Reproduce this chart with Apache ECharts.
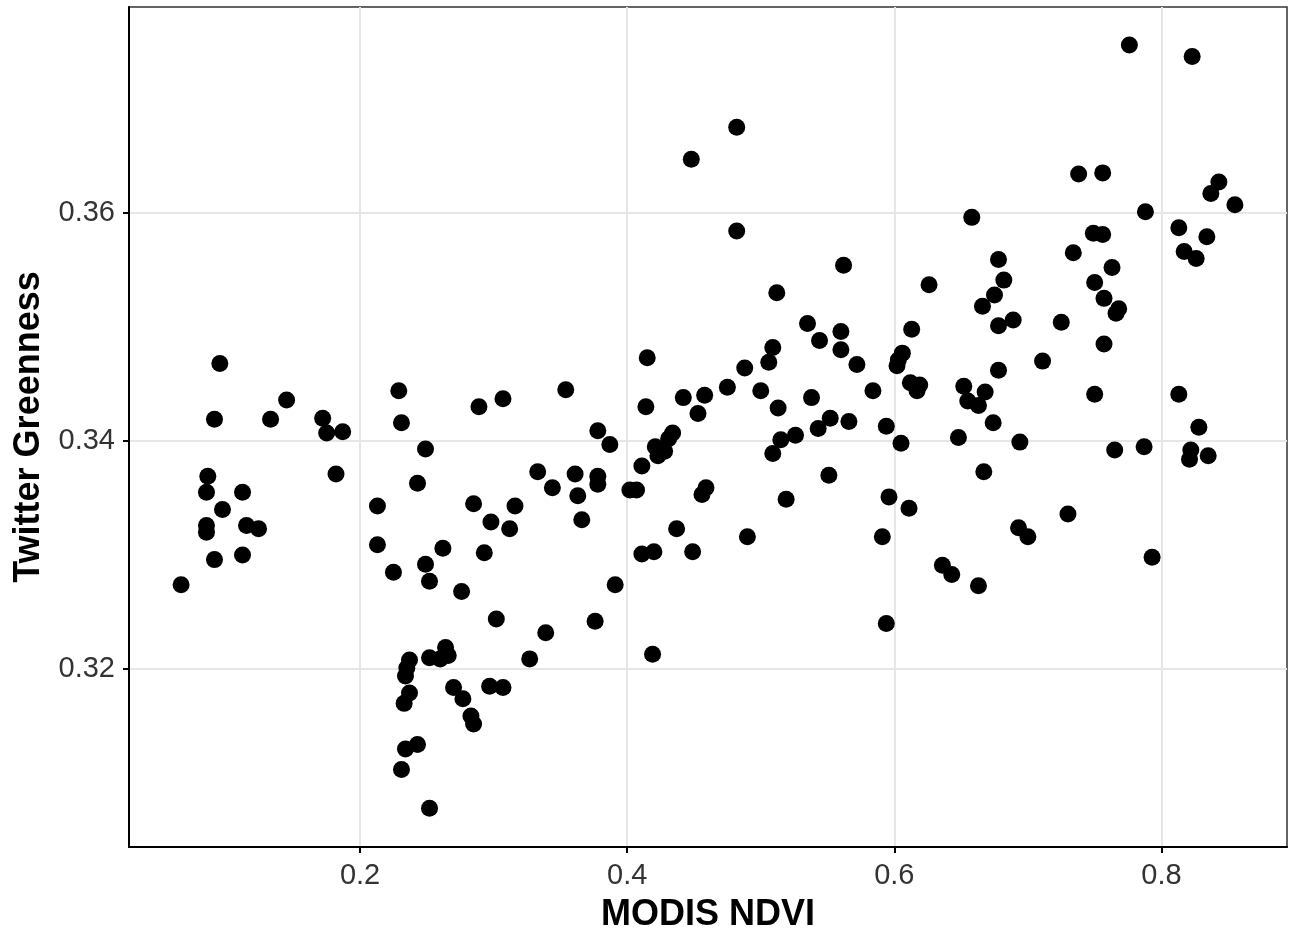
<!DOCTYPE html>
<html><head><meta charset="utf-8">
<script src="https://cdn.jsdelivr.net/npm/echarts@6/dist/echarts.min.js"></script>
<style>html,body{margin:0;padding:0;background:#fff}#c{width:1293px;height:930px}</style>
</head><body><div id="c"></div>
<script>
const ndvi = [0.066,0.086,0.085,0.112,0.097,0.085,0.085,0.115,0.124,0.091,0.112,0.095,0.091,0.133,0.145,0.172,0.175,0.187,0.182,0.229,
0.231,0.213,0.213,0.225,0.243,0.249,0.249,0.252,0.252,0.237,0.235,0.234,0.237,0.233,0.243,0.234,0.231,0.252,0.264,0.260,
0.266,0.270,0.277,0.283,0.285,0.276,0.302,0.297,0.307,0.327,0.339,0.376,0.391,0.419,0.262,0.293,0.285,0.316,0.298,0.312,
0.366,0.333,0.344,0.361,0.363,0.378,0.378,0.402,0.407,0.411,0.378,0.387,0.421,0.423,0.428,0.434,0.431,0.442,0.458,0.453,
0.415,0.414,0.354,0.307,0.289,0.437,0.411,0.420,0.449,0.456,0.459,0.448,0.482,0.482,0.562,0.512,0.626,0.658,0.666,0.675,
0.535,0.560,0.544,0.560,0.613,0.509,0.506,0.488,0.475,0.500,0.513,0.538,0.572,0.584,0.606,0.603,0.602,0.612,0.619,0.617,
0.552,0.543,0.566,0.594,0.605,0.648,0.526,0.515,0.509,0.652,0.668,0.655,0.663,0.674,0.667,0.551,0.519,0.596,0.611,0.490,
0.591,0.636,0.643,0.663,0.594,0.776,0.823,0.738,0.756,0.843,0.837,0.855,0.788,0.813,0.834,0.817,0.826,0.749,0.756,0.734,
0.763,0.750,0.678,0.682,0.757,0.768,0.766,0.689,0.678,0.725,0.757,0.711,0.678,0.750,0.813,0.828,0.694,0.765,0.787,0.822,
0.821,0.835,0.730,0.693,0.700,0.793];
const greenness = [0.3274,0.3369,0.3355,0.3355,0.3340,0.3326,0.3320,0.3326,0.3323,0.3296,0.3300,0.3468,0.3419,0.3419,0.3436,0.3420,0.3407,0.3408,0.3371,0.3444,
0.3416,0.3343,0.3309,0.3285,0.3363,0.3393,0.3292,0.3277,0.3210,0.3208,0.3201,0.3194,0.3179,0.3170,0.3134,0.3130,0.3112,0.3078,0.3219,0.3209,
0.3212,0.3184,0.3174,0.3159,0.3152,0.3268,0.3244,0.3185,0.3184,0.3209,0.3232,0.3242,0.3274,0.3213,0.3306,0.3302,0.3345,0.3343,0.3329,0.3323,
0.3331,0.3373,0.3359,0.3371,0.3352,0.3369,0.3362,0.3357,0.3357,0.3378,0.3409,0.3397,0.3395,0.3387,0.3391,0.3407,0.3402,0.3438,0.3440,0.3424,
0.3473,0.3430,0.3445,0.3437,0.3430,0.3323,0.3301,0.3303,0.3303,0.3353,0.3359,0.3647,0.3675,0.3584,0.3554,0.3530,0.3537,0.3596,0.3518,0.3528,
0.3503,0.3496,0.3488,0.3480,0.3498,0.3482,0.3469,0.3464,0.3447,0.3444,0.3429,0.3438,0.3467,0.3444,0.3477,0.3471,0.3466,0.3451,0.3449,0.3444,
0.3420,0.3411,0.3417,0.3413,0.3398,0.3403,0.3405,0.3401,0.3389,0.3448,0.3443,0.3435,0.3431,0.3416,0.3373,0.3370,0.3349,0.3351,0.3341,0.3316,
0.3316,0.3291,0.3283,0.3273,0.3240,0.3747,0.3737,0.3634,0.3635,0.3627,0.3617,0.3607,0.3601,0.3587,0.3579,0.3566,0.3560,0.3582,0.3581,0.3565,
0.3552,0.3539,0.3559,0.3541,0.3525,0.3516,0.3512,0.3506,0.3501,0.3504,0.3485,0.3470,0.3462,0.3441,0.3441,0.3412,0.3399,0.3392,0.3395,0.3392,
0.3384,0.3387,0.3336,0.3324,0.3316,0.3298];
const xTicks = [0.2, 0.4, 0.6, 0.8];
const yTicks = [0.32, 0.34, 0.36];
const xTitle = 'MODIS NDVI';
const yTitle = 'Twitter Greenness';

const points = ndvi.map((v, i) => [v, greenness[i]]);
const font = 'Liberation Sans, Arial, Helvetica, sans-serif';
const chart = echarts.init(document.getElementById('c'), null, {renderer: 'canvas'});
chart.setOption({
  animation: false,
  backgroundColor: '#fff',
  grid: {left: 129, right: 6, top: 7, bottom: 83, show: true, borderColor: '#333', borderWidth: 1.5,
         backgroundColor: '#fff', containLabel: false, outerBoundsMode: 'none'},
  xAxis: {
    type: 'value', min: 0.027, max: 0.894,
    name: xTitle, nameLocation: 'middle', nameGap: 50,
    nameTextStyle: {fontSize: 36, fontWeight: 'bold', color: '#000', fontFamily: font},
    axisLine: {show: true, onZero: false, lineStyle: {color: '#000', width: 2}},
    axisTick: {show: true, customValues: xTicks, length: 6, lineStyle: {color: '#000', width: 2}},
    axisLabel: {customValues: xTicks, fontSize: 29, color: '#333', margin: 14, fontFamily: font},
    splitLine: {show: true, lineStyle: {color: '#e6e6e6', width: 2}}
  },
  yAxis: {
    type: 'value', min: 0.30441, max: 0.37804,
    name: yTitle, nameLocation: 'middle', nameGap: 82,
    nameTextStyle: {fontSize: 36, fontWeight: 'bold', color: '#000', fontFamily: font},
    axisLine: {show: true, onZero: false, lineStyle: {color: '#000', width: 2}},
    axisTick: {show: true, customValues: yTicks, length: 6, lineStyle: {color: '#000', width: 2}},
    axisLabel: {customValues: yTicks, fontSize: 29, color: '#333', margin: 14, fontFamily: font},
    splitLine: {show: true, lineStyle: {color: '#e6e6e6', width: 2}}
  },
  series: [{
    type: 'scatter', data: points, symbolSize: 17,
    itemStyle: {color: '#000', opacity: 1}
  }]
});
</script>
</body></html>
